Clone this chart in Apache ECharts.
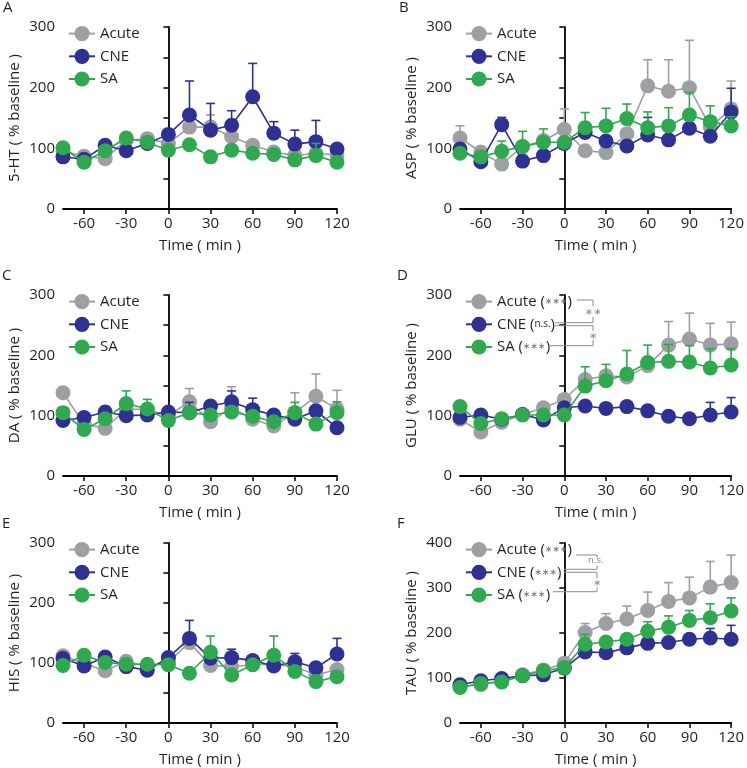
<!DOCTYPE html>
<html><head><meta charset="utf-8">
<script src="https://cdn.jsdelivr.net/npm/echarts@6/dist/echarts.min.js"></script>
<style>html,body{margin:0;padding:0;background:#fff}#c{width:747px;height:768px}</style>
</head><body><div id="c"></div>
<script>
// ---- data ----
const times = [-75,-60,-45,-30,-15,0,15,30,45,60,75,90,105,120];
const xTickLabels = [-60,-30,0,30,60,90,120];
const seriesNames = ['Acute','CNE','SA'];
const panelLetters = ['A','B','C','D','E','F'];
const yTitles = ['5-HT ( % baseline )','ASP ( % baseline )','DA ( % baseline )','GLU ( % baseline )','HIS ( % baseline )','TAU ( % baseline )'];

// 5-HT
const htAcute    = [95, 87, 83, 113, 116, 108, 135, 135, 119, 105, 94, 88, 92, 89];
const htAcuteErr = [0, 0, 0, 0, 0, 0, 8, 20, 6, 0, 0, 0, 0, 0];
const htCNE      = [86, 82, 105, 96, 108, 123, 155, 130, 138, 185, 125, 107, 111, 99];
const htCNEErr   = [0, 0, 0, 0, 0, 0, 56, 44, 24, 55, 19, 23, 35, 0];
const htSA       = [101, 77, 96, 117, 110, 97, 106, 86, 97, 92, 90, 81, 88, 77];
const htSAErr    = [0, 0, 0, 0, 0, 0, 0, 0, 0, 0, 0, 0, 20, 0];
// ASP
const aspAcute    = [117, 94, 74, 103, 113, 131, 96, 93, 124, 203, 194, 200, 135, 165];
const aspAcuteErr = [20, 0, 0, 0, 0, 34, 0, 0, 0, 43, 52, 78, 0, 46];
const aspCNE      = [99, 78, 139, 79, 88, 108, 126, 112, 104, 122, 114, 133, 120, 160];
const aspCNEErr   = [0, 0, 12, 0, 0, 0, 0, 0, 0, 29, 0, 0, 0, 39];
const aspSA       = [92, 86, 95, 103, 110, 110, 134, 137, 149, 134, 137, 155, 144, 137];
const aspSAErr    = [0, 0, 17, 25, 22, 0, 25, 29, 24, 26, 30, 37, 26, 15];
// DA
const daAcute    = [138, 86, 79, 111, 110, 100, 123, 90, 113, 94, 83, 105, 132, 111];
const daAcuteErr = [0, 0, 0, 0, 0, 0, 22, 0, 35, 0, 0, 33, 37, 31];
const daCNE      = [92, 97, 106, 100, 101, 106, 105, 116, 123, 110, 101, 94, 108, 80];
const daCNEErr   = [0, 0, 0, 0, 0, 0, 17, 0, 18, 19, 0, 0, 0, 0];
const daSA       = [105, 77, 95, 120, 111, 92, 105, 101, 106, 99, 90, 105, 86, 105];
const daSAErr    = [0, 0, 0, 21, 16, 0, 0, 0, 0, 0, 0, 17, 0, 18];
// GLU
const gluAcute    = [94, 73, 89, 102, 113, 127, 160, 166, 164, 183, 217, 227, 217, 219];
const gluAcuteErr = [0, 0, 0, 0, 0, 0, 0, 0, 0, 0, 39, 43, 36, 36];
const gluCNE      = [97, 101, 94, 102, 93, 113, 116, 112, 115, 108, 99, 95, 101, 106];
const gluCNEErr   = [0, 0, 0, 0, 0, 0, 0, 0, 0, 0, 0, 7, 21, 24];
const gluSA       = [115, 87, 95, 101, 101, 101, 149, 158, 169, 188, 190, 189, 179, 184];
const gluSAErr    = [0, 0, 0, 0, 0, 0, 32, 27, 39, 29, 28, 27, 32, 27];
// HIS
const hisAcute    = [112, 99, 87, 103, 94, 102, 134, 96, 94, 97, 98, 94, 80, 89];
const hisAcuteErr = [0, 0, 0, 0, 0, 0, 0, 0, 0, 0, 0, 0, 0, 0];
const hisCNE      = [108, 95, 110, 94, 88, 109, 141, 108, 109, 104, 95, 102, 92, 115];
const hisCNEErr   = [0, 0, 0, 0, 0, 0, 30, 0, 14, 0, 0, 14, 0, 26];
const hisSA       = [96, 113, 101, 98, 98, 97, 83, 118, 80, 97, 113, 86, 69, 77];
const hisSAErr    = [0, 0, 0, 0, 0, 0, 0, 27, 0, 0, 32, 0, 0, 0];
// TAU
const tauAcute    = [81, 85, 94, 107, 118, 133, 201, 221, 231, 250, 270, 278, 302, 312];
const tauAcuteErr = [0, 0, 0, 0, 0, 0, 20, 22, 29, 41, 42, 46, 57, 61];
const tauCNE      = [85, 94, 99, 105, 107, 122, 158, 156, 167, 177, 179, 186, 189, 186];
const tauCNEErr   = [0, 0, 0, 0, 0, 0, 0, 0, 0, 0, 0, 0, 21, 31];
const tauSA       = [79, 88, 91, 105, 116, 123, 175, 180, 186, 204, 213, 228, 234, 249];
const tauSAErr    = [0, 0, 0, 0, 0, 0, 22, 0, 0, 21, 25, 22, 31, 29];

const yTicks300 = [0,50,100,150,200,250,300];
const yLabels300 = [0,100,200,300];
const yTicks400 = [0,100,200,300,400];
const yLabels400 = [0,100,200,300,400];

const panelData = [
  [[htAcute,htAcuteErr],[htCNE,htCNEErr],[htSA,htSAErr]],
  [[aspAcute,aspAcuteErr],[aspCNE,aspCNEErr],[aspSA,aspSAErr]],
  [[daAcute,daAcuteErr],[daCNE,daCNEErr],[daSA,daSAErr]],
  [[gluAcute,gluAcuteErr],[gluCNE,gluCNEErr],[gluSA,gluSAErr]],
  [[hisAcute,hisAcuteErr],[hisCNE,hisCNEErr],[hisSA,hisSAErr]],
  [[tauAcute,tauAcuteErr],[tauCNE,tauCNEErr],[tauSA,tauSAErr]]
];

// ---- styling / layout ----
const FONT = 'Open Sans';
const TXT = '#231f20';
const COLORS = ['#9d9fa2', '#2e3192', '#2fa84f'];
const grids = [
  {left:63, top:27, width:274, height:182},
  {left:460, top:27, width:272, height:182},
  {left:63, top:295, width:274, height:181},
  {left:460, top:295, width:272, height:181},
  {left:63, top:543, width:274, height:181},
  {left:460, top:543, width:272, height:181}
];
const letterPos = [[3,0],[399,0],[2,268],[397,268],[2,516],[397,516]];

const option = {
  animation:false,
  textStyle:{fontFamily:FONT},
  title:[], grid:[], xAxis:[], yAxis:[], legend:[], series:[], graphic:[]
};

function errRender(color){
  return function(params, api){
    const x = api.value(0), y = api.value(1), e = api.value(2);
    if (!e) return null;
    const p0 = api.coord([x, y]);
    const p1 = api.coord([x, y + e]);
    return {type:'group', children:[
      {type:'line', shape:{x1:p0[0],y1:p0[1],x2:p1[0],y2:p1[1]}, style:{stroke:color, lineWidth:1.6}},
      {type:'line', shape:{x1:p1[0]-4.5,y1:p1[1],x2:p1[0]+4.5,y2:p1[1]}, style:{stroke:color, lineWidth:1.6}}
    ]};
  };
}

const STAR = '\u2217\u2217\u2217';
const legendFormatters = {
  3: {Acute:'Acute ({s|' + STAR + '})', CNE:'CNE ({t|n.s.})', SA:'SA ({s|' + STAR + '})'},
  5: {Acute:'Acute ({s|' + STAR + '})', CNE:'CNE ({s|' + STAR + '})', SA:'SA ({s|' + STAR + '})'}
};

for (let i = 0; i < 6; i++) {
  const g = grids[i];
  option.grid.push(Object.assign({containLabel:false}, g));
  option.title.push({text:panelLetters[i], left:letterPos[i][0], top:letterPos[i][1], padding:0,
    textStyle:{fontFamily:FONT, fontSize:15, fontWeight:'normal', color:TXT}});
  const isTau = i === 5;
  option.xAxis.push({
    type:'value', gridIndex:i, min:-75, max:120,
    name:'Time ( min )', nameLocation:'middle', nameGap:29,
    nameTextStyle:{fontFamily:FONT, fontSize:15, color:TXT},
    axisLine:{onZero:false, lineStyle:{color:'#000', width:1.8}},
    axisTick:{show:true, length:5, lineStyle:{color:'#000', width:1.5}, customValues:xTickLabels},
    axisLabel:{fontFamily:FONT, fontSize:15, color:TXT, margin:7, customValues:xTickLabels},
    splitLine:{show:false}
  });
  option.yAxis.push({
    type:'value', gridIndex:i, min:0, max: isTau ? 400 : 300,
    name:yTitles[i], nameLocation:'middle', nameGap:41,
    nameTextStyle:{fontFamily:FONT, fontSize:15, color:TXT},
    axisLine:{show:true, lineStyle:{color:'#000', width:1.8}},
    axisTick:{show:true, length:5, lineStyle:{color:'#000', width:1.5}, customValues: isTau ? yTicks400 : yTicks300},
    axisLabel:{fontFamily:FONT, fontSize:15, color:TXT, margin:8, customValues: isTau ? yLabels400 : yLabels300},
    splitLine:{show:false}
  });
  const fmt = legendFormatters[i];
  option.legend.push({
    orient:'vertical', left:g.left+5, top:g.top-1, padding:0, itemWidth:26, itemHeight:19, itemGap:7.5,
    data:seriesNames, selectedMode:false,
    formatter: fmt ? (n => fmt[n]) : (n => n),
    textStyle:{fontFamily:FONT, fontSize:15, color:TXT,
      rich:{s:{fontFamily:'DejaVu Sans', fontSize:9, color:'#6d6e71'},
            t:{fontFamily:FONT, fontSize:10, color:TXT}}}
  });
  panelData[i].forEach((pair, k) => {
    const [vals, errs] = pair;
    option.series.push({
      type:'custom', name:seriesNames[k] + ' SEM', xAxisIndex:i, yAxisIndex:i, z:2+2*k,
      renderItem: errRender(COLORS[k]), silent:true,
      data: times.map((t, j) => [t, vals[j], errs[j]])
    });
    option.series.push({
      type:'line', name:seriesNames[k], xAxisIndex:i, yAxisIndex:i, z:3+2*k,
      symbol:'circle', symbolSize:15, showSymbol:true,
      color:COLORS[k], itemStyle:{color:COLORS[k]}, lineStyle:{color:COLORS[k], width:1.6},
      emphasis:{disabled:true},
      data: times.map((t, j) => [t, vals[j]])
    });
  });
}

// significance brackets (annotation)
const BR = '#8a8b8d';
function ln(x1,y1,x2,y2){ return {type:'line', shape:{x1,y1,x2,y2}, style:{stroke:BR, lineWidth:1}, z:100}; }
function tx(x,y,t,fs){ return {type:'text', x, y, style:{text:t, fill:BR, font:fs+'px "DejaVu Sans"', textAlign:'center', textVerticalAlign:'middle'}, z:100}; }
option.graphic = [
  // D
  ln(577,300,593,300), ln(593,300,593,306), tx(593,312,'\u2217\u2217',10), ln(593,317,593,322.7),
  ln(555,322.7,593,322.7), ln(555,325.7,593,325.7), ln(593,325.7,593,331),
  tx(593,336,'\u2217',10), ln(593,340,593,345.7), ln(550,345.7,593,345.7),
  // F
  ln(576,555,597,555), ln(597,555,597,557.5), tx(596,561,'n.s.',9), ln(597,565.5,597,569.3),
  ln(564,569.3,597,569.3), ln(564,572.3,597,572.3), ln(597,572.3,597,578),
  tx(597,583,'\u2217',10), ln(597,587.5,597,591.7), ln(553,591.7,597,591.7)
];

const chart = echarts.init(document.getElementById('c'), null, {renderer:'canvas'});
chart.setOption(option);
</script></body></html>
